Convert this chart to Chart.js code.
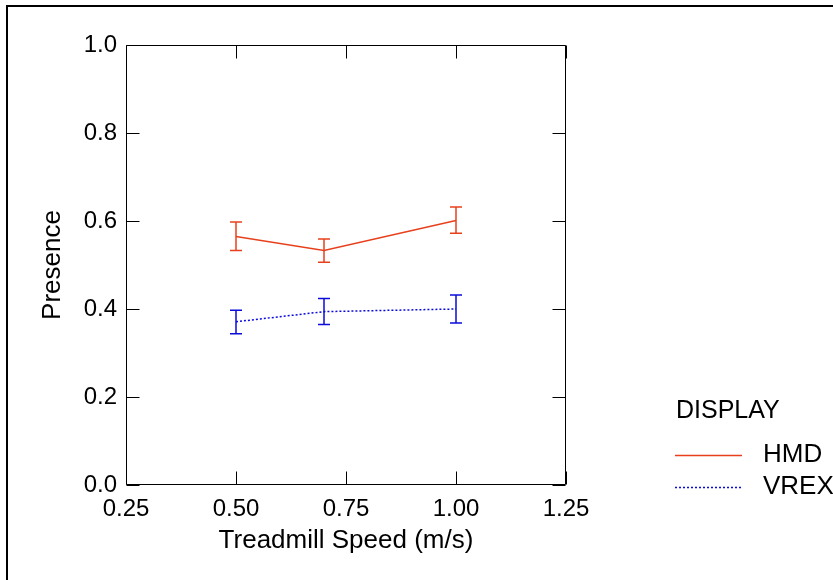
<!DOCTYPE html>
<html>
<head>
<meta charset="utf-8">
<script src="https://cdn.jsdelivr.net/npm/chart.js@4/dist/chart.umd.min.js"></script>
<style>
html,body{margin:0;padding:0;background:#fff;}
#wrap{width:833px;height:580px;position:relative;}
</style>
</head>
<body>
<div id="wrap"><canvas id="c" width="833" height="580"></canvas></div>
<script>
const speeds = [0.5, 0.7, 1.0];
const hmdMean = [0.565, 0.533, 0.601];
const hmdLow  = [0.533, 0.506, 0.572];
const hmdHigh = [0.598, 0.559, 0.632];
const vrexMean = [0.371, 0.394, 0.400];
const vrexLow  = [0.344, 0.365, 0.368];
const vrexHigh = [0.397, 0.424, 0.432];
const seriesLabels = ['HMD', 'VREX'];
const legendTitle = 'DISPLAY';
const xTitle = 'Treadmill Speed (m/s)';
const yTitle = 'Presence';

const FONT = 'Liberation Sans, Arial, Helvetica, sans-serif';
const HMD_COLOR = '#e8401c';
const VREX_COLOR = '#0b0bdc';

const framePlugin = {
  id: 'framePlugin',
  beforeDraw(chart) {
    const ctx = chart.ctx;
    ctx.save();
    ctx.fillStyle = '#fff';
    ctx.fillRect(0, 0, chart.width, chart.height);
    ctx.strokeStyle = '#000';
    ctx.lineWidth = 2;
    ctx.strokeRect(7, 6, 1000, 1000);
    ctx.restore();
  },
  afterDraw(chart) {
    const ctx = chart.ctx;
    const a = chart.chartArea;
    const xs = chart.scales.x, ys = chart.scales.y;
    const L = Math.round(a.left) + 0.5, R = Math.round(a.right) - 0.5;
    const T = Math.round(a.top) + 0.5, B = Math.round(a.bottom) - 0.5;
    const tl = 13;
    ctx.save();
    ctx.strokeStyle = '#000';
    ctx.lineWidth = 1;
    ctx.beginPath();
    ctx.rect(L, T, R - L, B - T);
    xs.ticks.forEach(t => {
      const px = Math.round(xs.getPixelForValue(t.value)) + 0.5;
      ctx.moveTo(px, B); ctx.lineTo(px, B - tl);
      ctx.moveTo(px, T); ctx.lineTo(px, T + tl);
    });
    ys.ticks.forEach(t => {
      const py = Math.round(ys.getPixelForValue(t.value)) + 0.5;
      ctx.moveTo(L, py); ctx.lineTo(L + tl, py);
      ctx.moveTo(R, py); ctx.lineTo(R - tl, py);
    });
    ctx.stroke();
    ctx.restore();

    // legend
    ctx.save();
    ctx.fillStyle = '#000';
    ctx.textBaseline = 'middle';
    ctx.textAlign = 'left';
    ctx.font = '25px ' + FONT;
    ctx.fillText(legendTitle, 676, 411);
    ctx.font = '26px ' + FONT;
    const rows = [455, 487];
    chart.data.datasets.forEach((ds, i) => {
      const y = rows[i] + 0.5;
      ctx.strokeStyle = ds.borderColor;
      ctx.lineWidth = ds.borderWidth;
      ctx.setLineDash(ds.borderDash || []);
      ctx.beginPath();
      ctx.moveTo(675, y); ctx.lineTo(742, y);
      ctx.stroke();
      ctx.setLineDash([]);
      ctx.fillText(ds.label, 763, rows[i]);
    });
    ctx.restore();
  },
  afterDatasetsDraw(chart) {
    const ctx = chart.ctx;
    const ys = chart.scales.y;
    const errs = [[hmdLow, hmdHigh], [vrexLow, vrexHigh]];
    chart.data.datasets.forEach((ds, i) => {
      const meta = chart.getDatasetMeta(i);
      ctx.save();
      ctx.strokeStyle = ds.borderColor;
      ctx.lineWidth = 1.5;
      ctx.beginPath();
      meta.data.forEach((pt, j) => {
        const x = Math.round(pt.x);
        const y1 = ys.getPixelForValue(errs[i][0][j]);
        const y2 = ys.getPixelForValue(errs[i][1][j]);
        ctx.moveTo(x, y1); ctx.lineTo(x, y2);
        ctx.moveTo(x - 6, y1); ctx.lineTo(x + 6, y1);
        ctx.moveTo(x - 6, y2); ctx.lineTo(x + 6, y2);
      });
      ctx.stroke();
      ctx.restore();
    });
  }
};

new Chart(document.getElementById('c'), {
  type: 'line',
  data: {
    datasets: [
      {
        label: seriesLabels[0],
        data: speeds.map((s, i) => ({x: s, y: hmdMean[i]})),
        borderColor: HMD_COLOR,
        borderWidth: 1.5,
        pointRadius: 0,
        fill: false,
        tension: 0
      },
      {
        label: seriesLabels[1],
        data: speeds.map((s, i) => ({x: s, y: vrexMean[i]})),
        borderColor: VREX_COLOR,
        borderWidth: 1.5,
        borderDash: [2, 2],
        pointRadius: 0,
        fill: false,
        tension: 0
      }
    ]
  },
  options: {
    responsive: false,
    animation: false,
    devicePixelRatio: 1,
    layout: { padding: { left: 0, top: 45, right: 267, bottom: 0 } },
    plugins: { legend: { display: false }, tooltip: { enabled: false } },
    scales: {
      x: {
        type: 'linear',
        min: 0.25, max: 1.25,
        afterFit: s => { s.height = 95; },
        grid: { display: false, drawTicks: false },
        border: { display: false },
        ticks: {
          stepSize: 0.25,
          color: '#000',
          font: { family: FONT, size: 24 },
          padding: 10,
          maxRotation: 0,
          callback: v => Number(v).toFixed(2)
        },
        title: {
          display: true, text: xTitle, color: '#000',
          font: { family: FONT, size: 26 },
          padding: { top: 0, bottom: 24 }
        }
      },
      y: {
        min: 0, max: 1,
        afterFit: s => { s.width = 126; },
        grid: { display: false, drawTicks: false },
        border: { display: false },
        ticks: {
          stepSize: 0.2,
          color: '#000',
          font: { family: FONT, size: 24 },
          padding: 9,
          callback: v => Number(v).toFixed(1)
        },
        title: {
          display: true, text: yTitle, color: '#000',
          font: { family: FONT, size: 26 },
          padding: { top: 37, bottom: 0 }
        }
      }
    }
  },
  plugins: [framePlugin]
});
</script>
</body>
</html>
